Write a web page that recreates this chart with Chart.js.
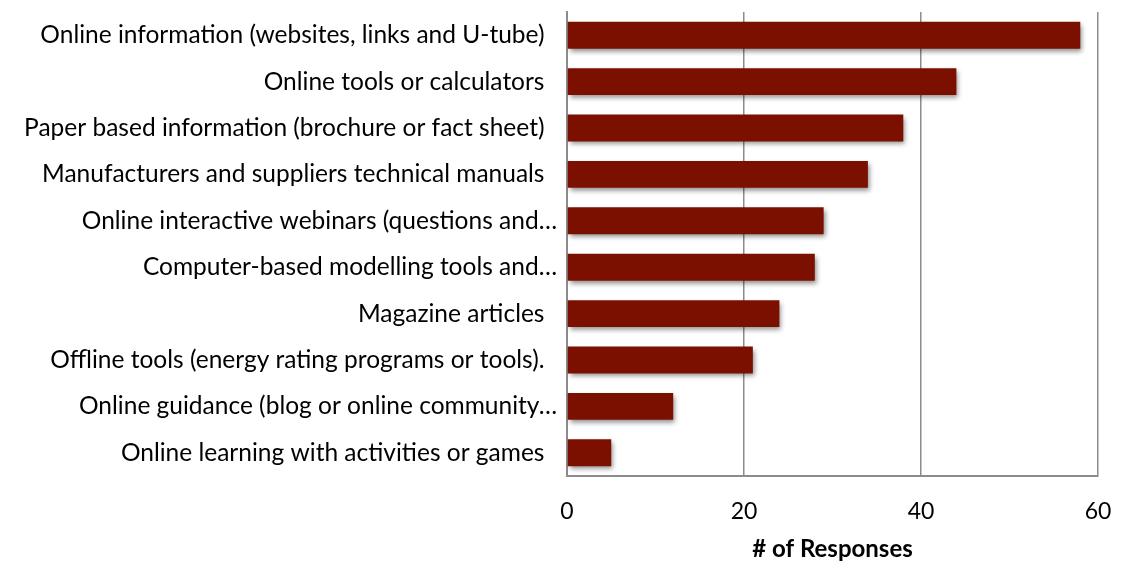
<!DOCTYPE html>
<html lang="en">
<head>
    <meta charset="UTF-8">
    <title>Information sources</title>
    <script src="https://cdn.jsdelivr.net/npm/chart.js"></script>
    <style>
        html, body { margin: 0; padding: 0; background: #fff; }
        .chart { width: 1122px; height: 564px; }
    </style>
</head>
<body>
    <div class="chart">
        <canvas id="chart1"></canvas>
    </div>

    <script>
        // categories and counts
        const categories = [
            'Online information (websites, links and U-tube)  ',
            'Online tools or calculators  ',
            'Paper based information (brochure or fact sheet)  ',
            'Manufacturers and suppliers technical manuals  ',
            'Online interactive webinars (questions and\u2026',
            'Computer-based modelling tools and\u2026',
            'Magazine articles  ',
            'Offline tools (energy rating programs or tools).  ',
            'Online guidance (blog or online community\u2026',
            'Online learning with activities or games  '
        ];
        const responses = [58, 44, 38, 34, 29, 28, 24, 21, 12, 5];
        const xTicks = [0, 20, 40, 60];

        const fontFamily = "Lato, 'Open Sans', sans-serif";

        // soft drop shadow under the bars
        const barShadow = {
            id: 'barShadow',
            beforeDatasetsDraw(chart) {
                const ctx = chart.ctx;
                ctx.save();
                ctx.shadowColor = 'rgba(0,0,0,0.45)';
                ctx.shadowBlur = 5;
                ctx.shadowOffsetX = 2;
                ctx.shadowOffsetY = 3;
            },
            afterDatasetsDraw(chart) {
                chart.ctx.restore();
            }
        };

        new Chart(document.getElementById('chart1'), {
            type: 'bar',
            data: {
                labels: categories,
                datasets: [{
                    data: responses,
                    backgroundColor: '#7b1000',
                    borderWidth: 0,
                    categoryPercentage: 1,
                    barPercentage: 0.58
                }]
            },
            options: {
                indexAxis: 'y',
                responsive: true,
                maintainAspectRatio: false,
                animation: false,
                layout: { padding: { top: 12, right: 24, bottom: 0, left: 0 } },
                plugins: {
                    legend: { display: false },
                    tooltip: { enabled: false }
                },
                scales: {
                    x: {
                        min: 0,
                        max: 60,
                        afterBuildTicks(scale) {
                            scale.ticks = xTicks.map(v => ({ value: v }));
                        },
                        afterFit(scale) {
                            scale.paddingLeft = 0;
                            scale.paddingRight = 0;
                            scale.height = 88;
                        },
                        grid: {
                            color: '#8c8c8c',
                            lineWidth: 1.5,
                            drawTicks: false
                        },
                        border: { color: '#8c8c8c', width: 2 },
                        ticks: {
                            color: '#000',
                            padding: 22,
                            font: { family: fontFamily, size: 23 }
                        },
                        title: {
                            display: true,
                            text: '# of Responses',
                            color: '#000',
                            padding: { top: 2, bottom: 0 },
                            font: { family: fontFamily, size: 24, weight: 'bold' }
                        }
                    },
                    y: {
                        afterFit(scale) {
                            scale.width = 567;
                            scale.paddingTop = 0;
                            scale.paddingBottom = 0;
                        },
                        grid: { display: false, drawTicks: false },
                        border: { color: '#8c8c8c', width: 2 },
                        ticks: {
                            color: '#000',
                            padding: 10,
                            font: { family: fontFamily, size: 24.5 }
                        }
                    }
                }
            },
            plugins: [barShadow]
        });
    </script>
</body>
</html>
